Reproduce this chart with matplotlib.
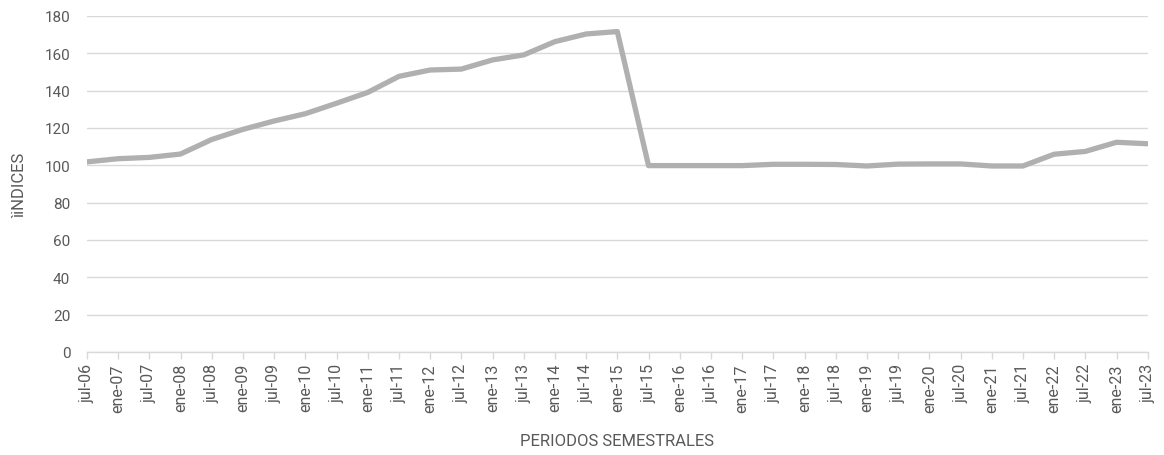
"""Indices by semester period, line chart."""

import matplotlib

matplotlib.use("Agg")
import matplotlib.pyplot as plt

PERIODS = [
    "jul-06", "ene-07", "jul-07", "ene-08", "jul-08", "ene-09", "jul-09",
    "ene-10", "jul-10", "ene-11", "jul-11", "ene-12", "jul-12", "ene-13",
    "jul-13", "ene-14", "jul-14", "ene-15", "jul-15", "ene-16", "jul-16",
    "ene-17", "jul-17", "ene-18", "jul-18", "ene-19", "jul-19", "ene-20",
    "jul-20", "ene-21", "jul-21", "ene-22", "jul-22", "ene-23", "jul-23",
]
INDICES = [
    101.8, 103.5, 104.2, 106.0, 113.8, 119.2, 123.7,
    127.6, 133.2, 139.0, 147.6, 151.0, 151.5, 156.4,
    159.1, 166.2, 170.3, 171.6, 99.8, 99.8, 99.8,
    99.8, 100.5, 100.5, 100.4, 99.6, 100.6, 100.7,
    100.7, 99.6, 99.6, 105.9, 107.4, 112.3, 111.5,
]
Y_TICKS = list(range(0, 181, 20))

TEXT = "#595959"
GRID = "#d9d9d9"
LINE = "#b0b0b0"

plt.rcParams["font.family"] = ["Roboto", "DejaVu Sans"]

fig = plt.figure(figsize=(11.64, 4.56), dpi=100)
ax = fig.add_axes([0.0747, 0.226, 0.9113, 0.737])

x = list(range(len(PERIODS)))
ax.plot(x, INDICES, color=LINE, linewidth=3.8, solid_capstyle="round",
        solid_joinstyle="round", zorder=3)

ax.set_xlim(0, len(PERIODS) - 1)
ax.set_ylim(0, 180)
ax.set_yticks(Y_TICKS)
ax.set_xticks(x)
ax.set_xticklabels(PERIODS, rotation=90)

ax.grid(axis="y", color=GRID, linewidth=1.0)
ax.set_axisbelow(True)
for side in ("top", "right", "left"):
    ax.spines[side].set_visible(False)
ax.spines["bottom"].set_color(GRID)
ax.spines["bottom"].set_linewidth(1.0)

ax.tick_params(axis="x", colors=TEXT, labelsize=11.5, length=5, color=GRID,
               width=1.0, pad=3)
ax.tick_params(axis="y", colors=TEXT, labelsize=11, length=0, pad=12)

ax.set_xlabel("PERIODOS SEMESTRALES", color=TEXT, fontsize=12, labelpad=15)
ax.set_ylabel("ìiNDICES", color=TEXT, fontsize=12, labelpad=12)

fig.savefig("out.png", dpi=100)
